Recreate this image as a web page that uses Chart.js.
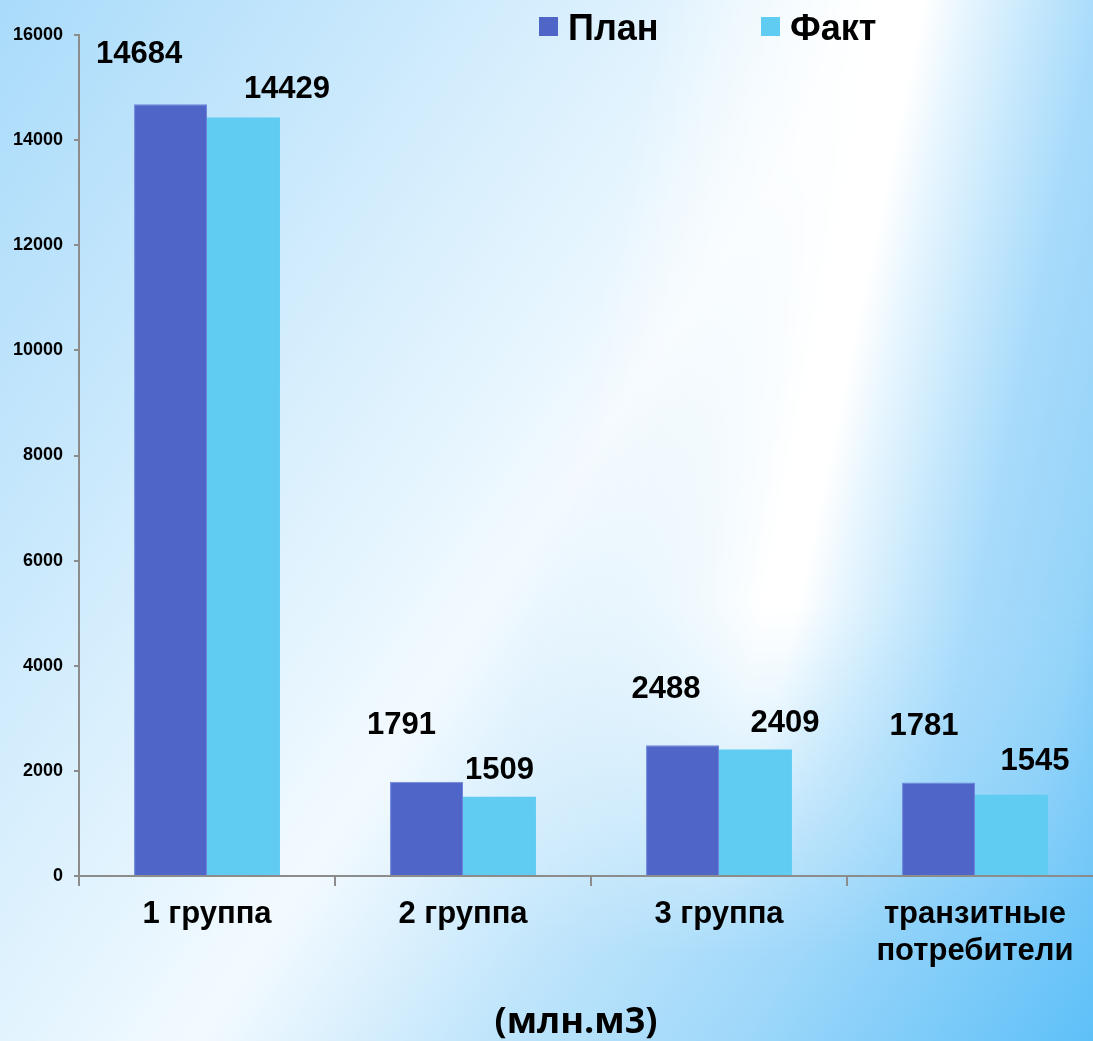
<!DOCTYPE html>
<html><head><meta charset="utf-8">
<script src="https://cdn.jsdelivr.net/npm/chart.js@4"></script>
<style>
html,body{margin:0;padding:0;width:1093px;height:1041px;overflow:hidden;}
body{
 position:relative;
 background: linear-gradient(124deg, #a9dbfa 0%, #c6e7fc 20%, #d8effd 32%, #e6f5fe 42%, #f3faff 50%, #ddf1fd 57%, #bde4fb 67%, #9fd8fa 80%, #5ec0f8 100%);
}
#streak{
 position:absolute;left:0;top:0;width:1093px;height:1041px;z-index:0;
 background: linear-gradient(101.75deg, rgba(255,255,255,0) 50%, rgba(255,255,255,0.55) 60%, rgba(255,255,255,1) 68%, #ffffff 70.5%, #e6f5fe 74%, #c6e8fc 79%, #a8dbfb 84%, #95d4f9 92%, #5ec0f8 100%);
 -webkit-mask-image: linear-gradient(to bottom, #000 0%, #000 58%, rgba(0,0,0,0) 92%);
 mask-image: linear-gradient(to bottom, #000 0%, #000 58%, rgba(0,0,0,0) 92%);
}
#wrap{position:relative;z-index:1;width:1110px;height:1041px;}
</style></head><body>
<div id="streak"></div>
<div id="wrap"><canvas id="c" width="1110" height="1041"></canvas></div>
<script>
const categories = ['1 группа', '2 группа', '3 группа', ['транзитные', 'потребители']];
const seriesNames = ['План', 'Факт'];
const planValues = [14684, 1791, 2488, 1781];
const factValues = [14429, 1509, 2409, 1545];
const yTicks = [0, 2000, 4000, 6000, 8000, 10000, 12000, 14000, 16000];
const unitTitle = '(млн.м3)';

// label placement (style): [dx from bar centre, dy above bar top]
const labelShift = [
  [[-31.5, 41], [-25, 48], [-16.5, 47], [-14.5, 47.5]],
  [[43.5, 19.5], [0, 18], [29.5, 17.5], [23.5, 25]]
];
const colors = ['#4f66c8', '#60ccf2'];
const legendPos = [{x: 539, y: 17}, {x: 761, y: 17}];

const valueLabels = {
  id: 'valueLabels',
  afterDatasetsDraw(chart) {
    const ctx = chart.ctx;
    ctx.save();
    ctx.font = 'bold 31px "Liberation Sans", Arial, sans-serif';
    ctx.fillStyle = '#000';
    ctx.textAlign = 'center';
    ctx.textBaseline = 'alphabetic';
    chart.data.datasets.forEach((ds, di) => {
      chart.getDatasetMeta(di).data.forEach((bar, i) => {
        const [dx, dy] = labelShift[di][i];
        ctx.fillText(String(ds.data[i]), bar.x + dx, bar.y - dy);
      });
    });
    ctx.restore();
  }
};

const customLegend = {
  id: 'customLegend',
  afterDraw(chart) {
    const ctx = chart.ctx;
    ctx.save();
    ctx.font = 'bold 36px "Liberation Sans", Arial, sans-serif';
    ctx.textAlign = 'left';
    ctx.textBaseline = 'alphabetic';
    chart.data.datasets.forEach((ds, di) => {
      const p = legendPos[di];
      ctx.fillStyle = ds.backgroundColor;
      ctx.fillRect(p.x, p.y, 19, 19);
      ctx.fillStyle = '#000';
      ctx.fillText(ds.label, p.x + 29, p.y + 23);
    });
    ctx.restore();
  }
};

const titleShift = {
  id: 'titleShift',
  afterLayout(chart) {
    if (chart.titleBlock) {
      chart.titleBlock.left = 49;
      chart.titleBlock.right = 1103;
    }
  }
};

new Chart(document.getElementById('c'), {
  type: 'bar',
  data: {
    labels: categories,
    datasets: [
      {label: seriesNames[0], data: planValues, backgroundColor: colors[0], borderColor: '#6f84dc', borderWidth: 1},
      {label: seriesNames[1], data: factValues, backgroundColor: colors[1], borderWidth: 0}
    ]
  },
  options: {
    responsive: false,
    animation: false,
    devicePixelRatio: 1,
    layout: {padding: {top: 35, right: 7, left: 0, bottom: 0}},
    datasets: {bar: {categoryPercentage: 0.57, barPercentage: 1}},
    plugins: {
      legend: {display: false},
      tooltip: {enabled: false},
      title: {
        display: true, position: 'bottom', text: unitTitle, color: '#000',
        font: {family: '"Open Sans", sans-serif', size: 36, weight: 'bold', lineHeight: 1},
        padding: {top: 0, bottom: 0}
      }
    },
    scales: {
      x: {
        grid: {display: true, drawOnChartArea: false, drawTicks: true, tickLength: 10, color: '#8c8c8c', lineWidth: 2, offset: true},
        border: {display: true, color: '#8c8c8c', width: 2},
        ticks: {color: '#000', padding: 10, maxRotation: 0, autoSkip: false,
          font: {family: '"Liberation Sans", Arial, sans-serif', size: 31, weight: 'bold', lineHeight: '37px'}},
        afterFit(scale) { scale.height = 129; }
      },
      y: {
        min: 0, max: 16000,
        grid: {display: true, drawOnChartArea: false, drawTicks: true, tickLength: 5, color: '#8c8c8c', lineWidth: 2},
        border: {display: true, color: '#8c8c8c', width: 2},
        afterBuildTicks(scale) { scale.ticks = yTicks.map(v => ({value: v})); },
        ticks: {color: '#000', padding: 11, callback: v => String(v),
          font: {family: '"Liberation Sans", Arial, sans-serif', size: 18, weight: 'bold'}},
        afterFit(scale) { scale.width = 79; }
      }
    }
  },
  plugins: [valueLabels, customLegend, titleShift]
});
</script>
</body></html>
